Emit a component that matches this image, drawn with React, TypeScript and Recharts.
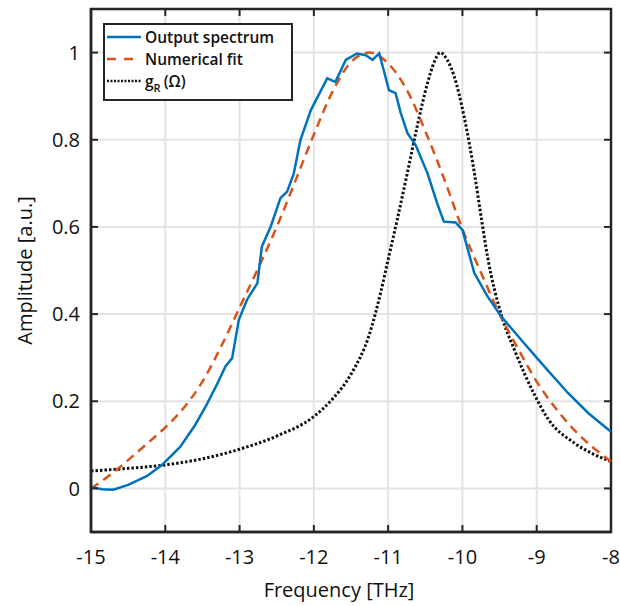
import { LineChart, Line, XAxis, YAxis, CartesianGrid, Legend, ReferenceArea, ReferenceLine } from "recharts";

const FONT = "'Open Sans', 'Noto Sans', sans-serif";
const AXIS = "#262626";

const xTicks = [-15, -14, -13, -12, -11, -10, -9, -8];
const yTicks = [0, 0.2, 0.4, 0.6, 0.8, 1];
const xDomain = [-15, -8];
const yDomain = [-0.1, 1.1];

// output spectrum (measured, has kinks)
const spectrumFreq = [
  -15, -14.85, -14.7, -14.5, -14.25, -14.05, -13.8, -13.6, -13.45, -13.3, -13.19, -13.1,
  -13.01, -12.9, -12.76, -12.7, -12.58, -12.45, -12.36, -12.27, -12.18, -12.04, -11.82,
  -11.71, -11.57, -11.42, -11.3, -11.21, -11.12, -11.06, -10.99, -10.9, -10.83, -10.74,
  -10.63, -10.47, -10.34, -10.25, -10.09, -10.0, -9.84, -9.66, -9.48, -9.21, -8.94, -8.58,
  -8.3, -8,
];
const spectrumAmp = [
  0.003, -0.002, -0.003, 0.008, 0.028, 0.053, 0.095, 0.145, 0.19, 0.24, 0.28, 0.299,
  0.387, 0.433, 0.471, 0.555, 0.601, 0.666, 0.681, 0.723, 0.8, 0.868, 0.941,
  0.933, 0.983, 0.998, 0.994, 0.983, 0.998, 0.96, 0.914, 0.907, 0.861, 0.815,
  0.788, 0.723, 0.654, 0.612, 0.61, 0.593, 0.494, 0.44, 0.395, 0.341, 0.288, 0.219,
  0.172, 0.13,
];

// numerical fit
const fitFreq = [
  -15, -14.75, -14.5, -14.25, -14, -13.75, -13.5, -13.25, -13, -12.75, -12.5, -12.25, -12,
  -11.75, -11.5, -11.25, -11, -10.75, -10.5, -10.25, -10, -9.75, -9.5, -9.25, -9, -8.75,
  -8.5, -8.25, -8,
];
const fitAmp = [
  0.0, 0.03, 0.065, 0.102, 0.14, 0.185, 0.245, 0.325, 0.415, 0.505, 0.6, 0.705, 0.812,
  0.91, 0.978, 1.0, 0.975, 0.915, 0.82, 0.712, 0.595, 0.495, 0.4, 0.32, 0.245, 0.185,
  0.135, 0.095, 0.062,
];

// Raman gain g_R(Ω)
const gainFreq = [
  -15, -14.5, -14, -13.5, -13, -12.5, -12, -11.75, -11.5, -11.25, -11.1, -11, -10.88,
  -10.74, -10.61, -10.47, -10.38, -10.3, -10.2, -10.11, -9.98, -9.84, -9.75, -9.66, -9.48,
  -9.3, -9.03, -8.85, -8.5, -8.25, -8,
];
const gainAmp = [
  0.04, 0.046, 0.054, 0.068, 0.09, 0.12, 0.165, 0.205, 0.262, 0.355, 0.45, 0.525, 0.615,
  0.725, 0.83, 0.93, 0.978, 1.0, 0.982, 0.945, 0.855, 0.725, 0.625, 0.53, 0.4,
  0.318, 0.215, 0.16, 0.105, 0.08, 0.062,
];

const toRows = (f: number[], a: number[]) => f.map((x, i) => ({ f: x, a: a[i] }));

const spectrum = toRows(spectrumFreq, spectrumAmp);
const fit = toRows(fitFreq, fitAmp);
const gain = toRows(gainFreq, gainAmp);

function LegendBox() {
  const row = { display: "flex", alignItems: "center", height: 22 } as const;
  const sample = (stroke: string, dash?: string, w = 2.5) => (
    <svg width={38} height={22} style={{ display: "block" }}>
      <line x1={2} x2={36} y1={11} y2={11} stroke={stroke} strokeWidth={w} strokeDasharray={dash} />
    </svg>
  );
  return (
    <div
      style={{
        width: 190, height: 78, boxSizing: "border-box", border: `2px solid ${AXIS}`,
        background: "#fff", paddingTop: 1, fontFamily: FONT, fontSize: 15.5, fontWeight: 600,
        color: "#111", whiteSpace: "nowrap", lineHeight: "22px",
      }}
    >
      <div style={row}>{sample("#0072BD")}<span style={{ marginLeft: 2 }}>Output spectrum</span></div>
      <div style={row}>{sample("#D95319", "9 8")}<span style={{ marginLeft: 2 }}>Numerical fit</span></div>
      <div style={row}>
        {sample("#111", "2 1.5", 2.5)}
        <span style={{ marginLeft: 2 }}>
          g<sub style={{ fontSize: 11, lineHeight: 0, verticalAlign: -5 }}>R</sub>
          <span style={{ marginLeft: 3 }}>(Ω)</span>
        </span>
      </div>
    </div>
  );
}

export default function App() {
  const tickStyle = { fill: "#111", fontSize: 20, fontFamily: FONT };
  const axisLine = { stroke: AXIS, strokeWidth: 2.5 };
  const tickLine = { stroke: AXIS, strokeWidth: 2 };
  const xTickLen = 0.016;
  const yTickLen = 0.094;
  return (
    <div style={{ position: "absolute", left: 0, top: 0, width: 620, height: 606, background: "#fff" }}>
      <LineChart width={620} height={606} margin={{ top: 9, right: 9, bottom: 0, left: 0 }}>
        <CartesianGrid stroke="#e4e4e4" strokeWidth={2} />
        <XAxis
          type="number" dataKey="f" domain={xDomain} ticks={xTicks} height={74}
          tickSize={-7} tickMargin={25} tick={tickStyle} axisLine={axisLine} tickLine={tickLine}
          label={{ value: "Frequency [THz]", position: "center", dx: -12, dy: 21, fill: "#111", fontSize: 20, fontFamily: FONT }}
        />
        <YAxis
          type="number" domain={yDomain} ticks={yTicks} width={91} allowDataOverflow
          tickSize={-7} tickMargin={18} tick={tickStyle} axisLine={axisLine} tickLine={tickLine}
          label={{ value: "Amplitude [a.u.]", angle: -90, position: "center", dx: -21, fill: "#111", fontSize: 20, fontFamily: FONT }}
        />
        <Line data={gain} dataKey="a" type="monotone" stroke="#111" strokeWidth={3} strokeDasharray="2.5 2" dot={false} isAnimationActive={false} />
        <Line data={fit} dataKey="a" type="monotone" stroke="#D95319" strokeWidth={2.5} strokeDasharray="9 6" dot={false} isAnimationActive={false} />
        <Line data={spectrum} dataKey="a" type="linear" stroke="#0072BD" strokeWidth={2.5} dot={false} isAnimationActive={false} />
        <ReferenceArea x1={xDomain[0]} x2={xDomain[1]} y1={yDomain[0]} y2={yDomain[1]} fill="none" stroke={AXIS} strokeWidth={2.5} fillOpacity={0} />
        {xTicks.map((t) => (
          <ReferenceLine key={`tx${t}`} segment={[{ x: t, y: yDomain[1] }, { x: t, y: yDomain[1] - xTickLen }]} stroke={AXIS} strokeWidth={2} />
        ))}
        {yTicks.map((t) => (
          <ReferenceLine key={`ty${t}`} segment={[{ x: xDomain[1], y: t }, { x: xDomain[1] - yTickLen, y: t }]} stroke={AXIS} strokeWidth={2} />
        ))}
        <Legend
          layout="vertical" align="center" verticalAlign="middle"
          wrapperStyle={{ left: 103, top: 23, width: 190, height: 78 }}
          content={() => <LegendBox />}
        />
      </LineChart>
    </div>
  );
}
